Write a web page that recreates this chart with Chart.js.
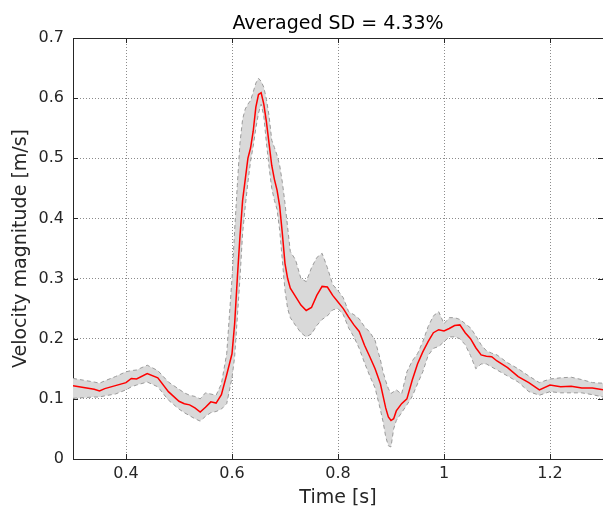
<!DOCTYPE html>
<html>
<head>
<meta charset="utf-8">
<script src="https://cdn.jsdelivr.net/npm/chart.js@4.4.0/dist/chart.umd.min.js"></script>
<style>
html, body { margin: 0; padding: 0; background: #fff; }
#chart { display: block; }
</style>
</head>
<body>
<canvas id="chart" width="603" height="510"></canvas>
<script>
// time axis [s]
const time = [
    0.30, 0.32, 0.34, 0.35, 0.36, 0.38, 0.40, 0.41, 0.42, 0.44,
    0.46, 0.48, 0.50, 0.51, 0.52, 0.53, 0.54, 0.55, 0.56, 0.57,
    0.58, 0.59, 0.60, 0.605, 0.61, 0.615, 0.62, 0.625, 0.63, 0.635,
    0.64, 0.645, 0.65, 0.655, 0.66, 0.665, 0.67, 0.675, 0.68, 0.685,
    0.69, 0.695, 0.70, 0.705, 0.71, 0.72, 0.73, 0.74, 0.75, 0.76,
    0.77, 0.78, 0.79, 0.80, 0.81, 0.82, 0.83, 0.84, 0.85, 0.86,
    0.87, 0.88, 0.885, 0.89, 0.895, 0.90, 0.905, 0.91, 0.92, 0.93,
    0.94, 0.95, 0.96, 0.97, 0.98, 0.99, 1.00, 1.01, 1.02, 1.03,
    1.04, 1.05, 1.06, 1.07, 1.08, 1.09, 1.10, 1.12, 1.14, 1.16,
    1.18, 1.20, 1.22, 1.24, 1.26, 1.28, 1.30
];
// mean velocity magnitude [m/s]
const meanVel = [
    0.122, 0.119, 0.116, 0.113, 0.117, 0.122, 0.127, 0.134, 0.133, 0.142,
    0.135, 0.112, 0.096, 0.092, 0.090, 0.085, 0.078, 0.086, 0.095, 0.093,
    0.107, 0.140, 0.175, 0.225, 0.300, 0.370, 0.430, 0.465, 0.500, 0.517,
    0.545, 0.585, 0.606, 0.609, 0.590, 0.560, 0.524, 0.488, 0.465, 0.447,
    0.420, 0.375, 0.325, 0.300, 0.284, 0.270, 0.256, 0.247, 0.252, 0.272,
    0.287, 0.286, 0.272, 0.261, 0.250, 0.236, 0.223, 0.212, 0.189, 0.170,
    0.150, 0.125, 0.105, 0.085, 0.070, 0.064, 0.067, 0.080, 0.092, 0.100,
    0.131, 0.158, 0.178, 0.195, 0.210, 0.215, 0.213, 0.217, 0.222, 0.223,
    0.210, 0.200, 0.185, 0.173, 0.171, 0.170, 0.163, 0.152, 0.137, 0.127,
    0.115, 0.123, 0.120, 0.121, 0.118, 0.118, 0.115
];
// mean + SD
const upperVel = [
    0.134, 0.131, 0.128, 0.126, 0.130, 0.137, 0.145, 0.147, 0.148, 0.156,
    0.147, 0.128, 0.116, 0.110, 0.106, 0.104, 0.100, 0.110, 0.108, 0.106,
    0.125, 0.175, 0.300, 0.380, 0.455, 0.525, 0.565, 0.582, 0.590, 0.596,
    0.610, 0.625, 0.633, 0.628, 0.618, 0.598, 0.570, 0.530, 0.518, 0.505,
    0.488, 0.460, 0.425, 0.385, 0.345, 0.331, 0.300, 0.295, 0.318, 0.335,
    0.342, 0.318, 0.290, 0.280, 0.268, 0.245, 0.240, 0.233, 0.220, 0.211,
    0.197, 0.165, 0.145, 0.130, 0.117, 0.109, 0.112, 0.115, 0.108, 0.145,
    0.163, 0.175, 0.195, 0.220, 0.238, 0.245, 0.225, 0.235, 0.235, 0.232,
    0.225, 0.218, 0.205, 0.190, 0.180, 0.176, 0.173, 0.160, 0.150, 0.138,
    0.127, 0.133, 0.135, 0.136, 0.132, 0.127, 0.126
];
// mean - SD
const lowerVel = [
    0.101, 0.102, 0.103, 0.103, 0.105, 0.108, 0.115, 0.120, 0.123, 0.128,
    0.120, 0.098, 0.083, 0.077, 0.072, 0.067, 0.063, 0.071, 0.077, 0.079,
    0.083, 0.092, 0.135, 0.170, 0.235, 0.300, 0.375, 0.420, 0.460, 0.495,
    0.520, 0.550, 0.575, 0.590, 0.570, 0.525, 0.485, 0.450, 0.430, 0.415,
    0.380, 0.330, 0.280, 0.250, 0.235, 0.222, 0.210, 0.203, 0.208, 0.222,
    0.232, 0.238, 0.248, 0.250, 0.240, 0.218, 0.203, 0.184, 0.160, 0.138,
    0.118, 0.082, 0.062, 0.037, 0.022, 0.020, 0.050, 0.064, 0.077, 0.090,
    0.104, 0.125, 0.145, 0.172, 0.184, 0.187, 0.195, 0.203, 0.203, 0.200,
    0.190, 0.172, 0.150, 0.158, 0.158, 0.153, 0.148, 0.138, 0.128, 0.112,
    0.106, 0.112, 0.110, 0.110, 0.110, 0.107, 0.103
];
const xTicks = [0.4, 0.6, 0.8, 1.0, 1.2];
const yTicks = [0, 0.1, 0.2, 0.3, 0.4, 0.5, 0.6, 0.7];
const chartTitle = 'Averaged SD = 4.33%';

const FONT = 'DejaVu Sans';
const AXIS_COLOR = '#262626';

function toPoints(values){
    return time.map((t, i) => ({x: t, y: values[i]}));
}
function tickText(v){
    return String(Math.round(v * 10) / 10);
}

// MATLAB style: inner tick marks, top box line, title centred on the axes
const boxPlugin = {
    id: 'boxPlugin',
    afterDraw(chart){
        const {ctx, chartArea: a, scales} = chart;
        const len = 5;
        ctx.save();
        ctx.strokeStyle = AXIS_COLOR;
        ctx.lineWidth = 1;
        ctx.beginPath();
        xTicks.forEach(v => {
            const px = Math.round(scales.x.getPixelForValue(v)) + 0.5;
            ctx.moveTo(px, a.bottom); ctx.lineTo(px, a.bottom - len);
            ctx.moveTo(px, a.top); ctx.lineTo(px, a.top + len);
        });
        yTicks.forEach(v => {
            const py = Math.round(scales.y.getPixelForValue(v)) + 0.5;
            ctx.moveTo(a.left, py); ctx.lineTo(a.left + len, py);
            ctx.moveTo(a.right, py); ctx.lineTo(a.right - len, py);
        });
        ctx.moveTo(a.left, a.top + 0.5); ctx.lineTo(a.right, a.top + 0.5);
        ctx.stroke();

        ctx.fillStyle = '#000';
        ctx.font = `19px "${FONT}"`;
        ctx.textAlign = 'center';
        ctx.textBaseline = 'alphabetic';
        ctx.fillText(chartTitle, (a.left + a.right) / 2, 29);
        ctx.restore();
    }
};

document.addEventListener('DOMContentLoaded', () => {
    const ctx = document.getElementById('chart').getContext('2d');
    new Chart(ctx, {
        type: 'line',
        data: {
            datasets: [
                {
                    label: 'upper',
                    data: toPoints(upperVel),
                    borderColor: '#9a9a9a',
                    borderWidth: 1,
                    borderDash: [4, 3],
                    backgroundColor: '#d9d9d9',
                    fill: '+1',
                    pointRadius: 0,
                    tension: 0,
                    order: 2
                },
                {
                    label: 'lower',
                    data: toPoints(lowerVel),
                    borderColor: '#9a9a9a',
                    borderWidth: 1,
                    borderDash: [4, 3],
                    fill: false,
                    pointRadius: 0,
                    tension: 0,
                    order: 1
                },
                {
                    label: 'mean',
                    data: toPoints(meanVel),
                    borderColor: '#ff0000',
                    borderWidth: 1.5,
                    fill: false,
                    pointRadius: 0,
                    tension: 0,
                    order: 0
                }
            ]
        },
        options: {
            responsive: false,
            animation: false,
            layout: { padding: { top: 38, right: 0, bottom: 0, left: 0 } },
            plugins: {
                legend: { display: false },
                tooltip: { enabled: false },
                title: { display: false }
            },
            scales: {
                x: {
                    type: 'linear',
                    min: 0.3,
                    max: 1.3,
                    afterBuildTicks: axis => { axis.ticks = xTicks.map(v => ({value: v})); },
                    afterFit: axis => { axis.height = 51; },
                    ticks: {
                        callback: v => tickText(v),
                        color: AXIS_COLOR,
                        font: { family: FONT, size: 16 },
                        padding: 5,
                        maxRotation: 0,
                        autoSkip: false
                    },
                    grid: { color: 'rgba(0,0,0,0.45)', drawTicks: false, tickLength: 0 },
                    border: { display: true, color: AXIS_COLOR, width: 1, dash: [1, 2] },
                    title: {
                        display: true,
                        text: 'Time [s]',
                        color: AXIS_COLOR,
                        font: { family: FONT, size: 19 },
                        padding: { top: 0, bottom: 1 }
                    }
                },
                y: {
                    type: 'linear',
                    min: 0,
                    max: 0.7,
                    afterBuildTicks: axis => { axis.ticks = yTicks.map(v => ({value: v})); },
                    afterFit: axis => { axis.width = 73; },
                    ticks: {
                        callback: v => tickText(v),
                        color: AXIS_COLOR,
                        font: { family: FONT, size: 16 },
                        padding: 9
                    },
                    grid: { color: 'rgba(0,0,0,0.45)', drawTicks: false, tickLength: 0 },
                    border: { display: true, color: AXIS_COLOR, width: 1, dash: [1, 2] },
                    title: {
                        display: true,
                        text: 'Velocity magnitude [m/s]',
                        color: AXIS_COLOR,
                        font: { family: FONT, size: 19 },
                        padding: { top: 10, bottom: 0 }
                    }
                }
            }
        },
        plugins: [boxPlugin]
    });
});
</script>
</body>
</html>
